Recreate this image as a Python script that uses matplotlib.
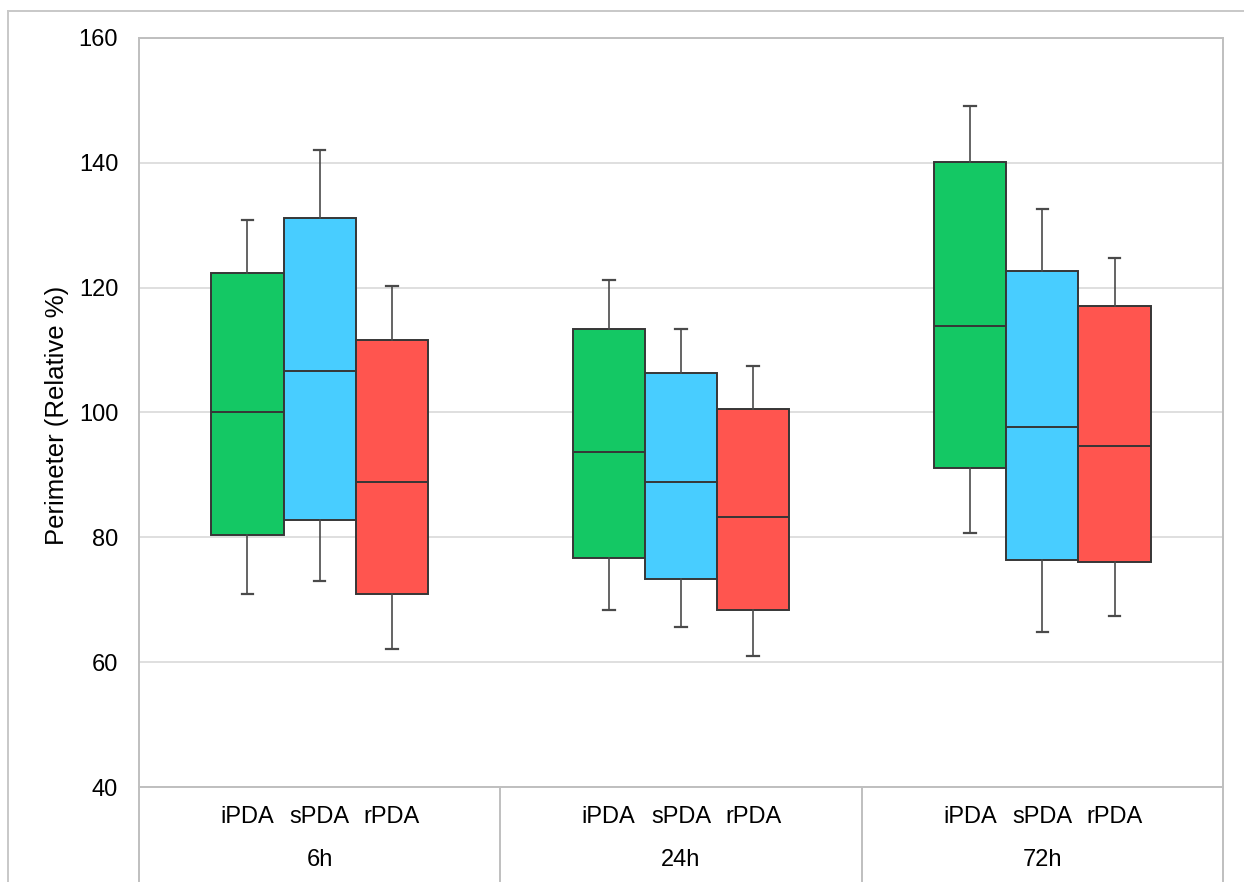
import matplotlib
matplotlib.use("Agg")
import matplotlib.pyplot as plt
from matplotlib.lines import Line2D
import matplotlib.transforms as mtransforms

# data
groups = ['6h', '24h', '72h']
series = ['iPDA', 'sPDA', 'rPDA']
colors = ['#14c864', '#48cdff', '#ff554f']

# per series, per group (6h, 24h, 72h)
whis_hi = {'iPDA': [130.9, 121.3, 149.1],
           'sPDA': [142.1, 113.4, 132.6],
           'rPDA': [120.2, 107.4, 124.8]}
q3 = {'iPDA': [122.3, 113.4, 140.2],
      'sPDA': [131.1, 106.4, 122.7],
      'rPDA': [111.6, 100.5, 117.1]}
med = {'iPDA': [100.0, 93.7, 113.9],
       'sPDA': [106.6, 88.8, 97.7],
       'rPDA': [88.8, 83.2, 94.6]}
q1 = {'iPDA': [80.3, 76.7, 91.1],
      'sPDA': [82.7, 73.3, 76.4],
      'rPDA': [70.9, 68.4, 76.0]}
whis_lo = {'iPDA': [71.0, 68.3, 80.7],
           'sPDA': [73.0, 65.7, 64.9],
           'rPDA': [62.1, 61.0, 67.4]}

yticks = [40, 60, 80, 100, 120, 140, 160]

plt.rcParams['font.family'] = ['Liberation Sans', 'DejaVu Sans']

fig = plt.figure(figsize=(12.44, 8.82), dpi=100)
ax = fig.add_axes([139/1244, 1 - 787/882, (1223 - 139)/1244, (787 - 38)/882])

width = 0.2
offsets = [-0.2, 0.0, 0.2]
edge = '#363636'

for s, col, off in zip(series, colors, offsets):
    stats = []
    for i in range(len(groups)):
        stats.append({'med': med[s][i], 'q1': q1[s][i], 'q3': q3[s][i],
                      'whislo': whis_lo[s][i], 'whishi': whis_hi[s][i]})
    pos = [i + off for i in range(len(groups))]
    ax.bxp(stats, positions=pos, widths=width, patch_artist=True,
           showfliers=False, capwidths=0.032, manage_ticks=False,
           boxprops=dict(facecolor=col, edgecolor=edge, linewidth=1.4),
           medianprops=dict(color=edge, linewidth=1.4),
           whiskerprops=dict(color='#4a4a4a', linewidth=1.2),
           capprops=dict(color='#4a4a4a', linewidth=1.6), zorder=3)

ax.set_xlim(-0.5, len(groups) - 0.5)
ax.set_ylim(40, 160)
ax.set_yticks(yticks)
ax.set_yticklabels([str(t) for t in yticks], fontsize=17)
ax.set_xticks([])
ax.tick_params(axis='y', length=0, pad=15)
ax.yaxis.grid(True, color='#d9d9d9', linewidth=1.2, zorder=0)
ax.set_axisbelow(True)
for sp in ax.spines.values():
    sp.set_color('#bfbfbf')
    sp.set_linewidth(1.4)

fig.text(57/1244, 1 - 415/882, 'Perimeter (Relative %)', rotation=90,
         ha='center', va='center', fontsize=18.5)

# category labels under the axis
trans = mtransforms.blended_transform_factory(ax.transData, ax.transAxes)
for i, g in enumerate(groups):
    for s, off in zip(series, offsets):
        ax.text(i + off, -0.040, s, transform=trans, ha='center', va='center', fontsize=17)
    ax.text(i, -0.097, g, transform=trans, ha='center', va='center', fontsize=17)

for xb in [-0.5, 0.5, 1.5, 2.5]:
    ax.add_line(Line2D([xb, xb], [0, -0.125], transform=trans, color='#bfbfbf',
                       linewidth=1.4, clip_on=False))

# outer chart frame
fig.add_artist(Line2D([8/1244, 1.0], [1 - 11/882, 1 - 11/882], color='#c8c8c8', linewidth=1.4))
fig.add_artist(Line2D([8/1244, 8/1244], [0, 1 - 11/882], color='#c8c8c8', linewidth=1.4))

plt.savefig('out.png', dpi=100)
